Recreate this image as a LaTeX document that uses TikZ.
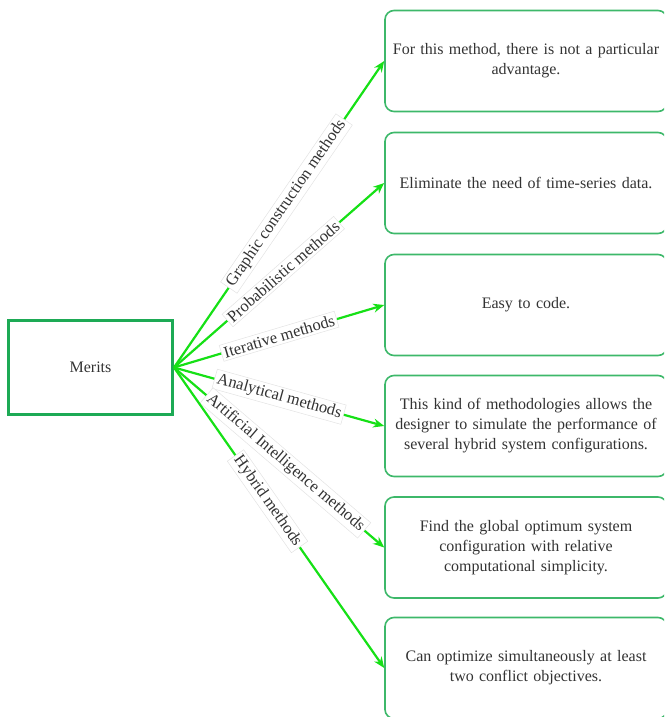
\documentclass[tikz,border=0pt]{standalone}
\usepackage{fontspec}
\setmainfont{Liberation Serif}
\usetikzlibrary{arrows.meta}
\definecolor{rootgreen}{HTML}{1DAA55}
\definecolor{boxgreen}{HTML}{3DB86A}
\definecolor{linkgreen}{HTML}{16E016}
\definecolor{textgray}{HTML}{333333}
\begin{document}
\begin{tikzpicture}[x=1pt,y=-1pt,
  rootbox/.style={draw=rootgreen, line width=3pt, minimum width=164pt, minimum height=94pt,
    inner sep=0pt, text=textgray, font=\fontsize{16}{20}\selectfont},
  meritbox/.style={draw=boxgreen, line width=1.6pt, rounded corners=9pt, minimum width=282pt,
    minimum height=101pt, inner sep=0pt, align=center, text width=280pt, text=textgray,
    font=\fontsize{16}{20}\selectfont},
  link/.style={draw=linkgreen, line width=2.2pt, -{Stealth[length=11pt,width=9pt]}},
  tag/.style={fill=white, draw=gray!22, line width=0.5pt, inner sep=2.5pt, sloped, text=textgray,
    font=\fontsize{16.5}{18}\selectfont}
]
\useasboundingbox (0,0) rectangle (664,717);
\clip (0,0) rectangle (664,717);

% central node
\node[rootbox] (merits) at (90.5,367.5) {Merits};

% outcome boxes
\node[meritbox] (b1) at (526,61)  {For this method, there is not a particular\\advantage.};
\node[meritbox] (b2) at (526,183) {Eliminate the need of time-series data.};
\node[meritbox] (b3) at (526,305) {Easy to code.};
\node[meritbox] (b4) at (526,426) {This kind of methodologies allows the\\designer to simulate the performance of\\several hybrid system configurations.};
\node[meritbox] (b5) at (526,547.5) {Find the global optimum system\\configuration with relative\\computational simplicity.};
\node[meritbox] (b6) at (526,668) {Can optimize simultaneously at least\\two conflict objectives.};

% connectors with method labels
\draw[link] (merits.east) -- node[tag, pos=0.535] {Graphic construction methods} (b1.west);
\draw[link] (merits.east) -- node[tag, pos=0.52] {Probabilistic methods} (b2.west);
\draw[link] (merits.east) -- node[tag, pos=0.5] {Iterative methods} (b3.west);
\draw[link] (merits.east) -- node[tag, pos=0.5] {Analytical methods} (b4.west);
\draw[link] (merits.east) -- node[tag, pos=0.53] {Artificial Intelligence methods} (b5.west);
\draw[link] (merits.east) -- node[tag, pos=0.445] {Hybrid methods} (b6.west);
\end{tikzpicture}
\end{document}
